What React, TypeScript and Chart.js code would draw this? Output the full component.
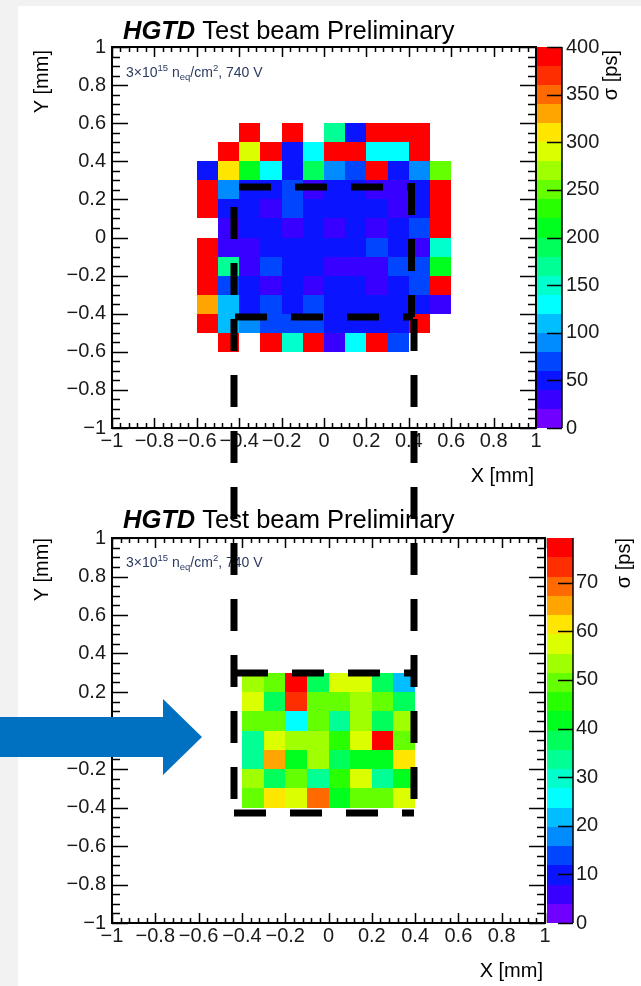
import React, { useEffect, useRef } from 'react';
import { Chart, registerables } from 'chart.js';

Chart.register(...registerables);

const FONT = '"Liberation Sans", Arial, Helvetica, sans-serif';
const TXT = '#1a1a1a';

// 20-band colour palette (low -> high)
const PALETTE = [
  '#7000ff', '#3800ff', '#0a14ff', '#0046ff', '#008cff', '#00beff', '#00ffff', '#00ffcc',
  '#00ff94', '#00ff5a', '#00ff1e', '#28ff00', '#64ff00', '#a0ff00', '#dcff00', '#ffe600',
  '#ffa500', '#ff6a00', '#ff2e00', '#ff0000',
];

// ---------- Top panel: sigma [ps], bins of 0.1 mm ----------
const topXEdges = [-0.6, -0.5, -0.4, -0.3, -0.2, -0.1, 0, 0.1, 0.2, 0.3, 0.4, 0.5, 0.6];
const topYEdges = [0.6, 0.5, 0.4, 0.3, 0.2, 0.1, 0, -0.1, -0.2, -0.3, -0.4, -0.5, -0.6];
const topZMax = 400;
const topZStep = 50;
const topRow055 = [null, null, 395, null, 392, null, 172, 48, 398, 394, 391, null];
const topRow045 = [null, 396, 288, 393, 52, 131, 397, 394, 128, 133, 392, null];
const topRow035 = [47, 312, 214, 134, 51, 186, 93, 71, 399, 44, 91, 251];
const topRow025 = [393, 88, 49, 53, 68, 33, 51, 46, 36, 32, 55, 396];
const topRow015 = [391, 54, 45, 34, 67, 49, 52, 47, 50, 31, 53, 395];
const topRow005 = [null, 35, 51, 48, 32, 47, 29, 50, 34, 46, 66, 392];
const topRowM005 = [394, 33, 36, 52, 49, 46, 51, 48, 64, 50, 37, 152];
const topRowM015 = [397, 168, 34, 71, 48, 50, 31, 35, 33, 69, 67, 209];
const topRowM025 = [390, 72, 47, 36, 51, 30, 49, 53, 37, 46, 68, 398];
const topRowM035 = [332, 114, 50, 66, 47, 71, 52, 45, 48, 51, 54, 36];
const topRowM045 = [393, 108, 92, 65, 69, 72, 47, 53, 49, 46, 395, null];
const topRowM055 = [null, 391, null, 396, 151, 393, 32, 129, 394, 63, null, null];

// ---------- Bottom panel: sigma [ps] ----------
const botXEdges = [-0.4, -0.3, -0.2, -0.1, 0, 0.1, 0.2, 0.3, 0.4];
const botYEdges = [0.3, 0.2, 0.1, 0, -0.1, -0.2, -0.3, -0.4];
const botZMax = 79.2;
const botZStep = 10;
const botRow025 = [53.2, 49.6, 77.5, 37.4, 57.1, 58.0, 38.2, 21.5];
const botRow015 = [57.6, 37.0, 73.4, 50.1, 48.9, 52.8, 49.3, 36.9];
const botRow005 = [49.8, 50.4, 25.6, 48.7, 33.9, 53.6, 37.8, 52.4];
const botRowM005 = [34.1, 57.9, 53.0, 54.1, 45.2, 58.3, 76.8, 50.6];
const botRowM015 = [33.5, 65.1, 41.8, 52.9, 38.5, 42.2, 41.0, 61.2];
const botRowM025 = [53.9, 37.1, 49.0, 34.6, 45.8, 57.0, 34.3, 42.5];
const botRowM035 = [50.9, 61.8, 58.6, 69.0, 41.3, 49.4, 48.2, 57.3];

const axisTicks = [-1, -0.8, -0.6, -0.4, -0.2, 0, 0.2, 0.4, 0.6, 0.8, 1];

type Cell = { x: number; y: number; x0: number; x1: number; y0: number; y1: number; v: number };

function buildCells(xEdges: number[], yEdges: number[], rows: (number | null)[][]): Cell[] {
  const out: Cell[] = [];
  rows.forEach((row, r) => {
    const yTop = yEdges[r];
    const yBot = yEdges[r + 1];
    row.forEach((v, c) => {
      if (v === null || v === undefined) return;
      const x0 = xEdges[c];
      const x1 = xEdges[c + 1];
      out.push({ x: (x0 + x1) / 2, y: (yTop + yBot) / 2, x0, x1, y0: yBot, y1: yTop, v });
    });
  });
  return out;
}

const topCells = buildCells(topXEdges, topYEdges, [
  topRow055, topRow045, topRow035, topRow025, topRow015, topRow005,
  topRowM005, topRowM015, topRowM025, topRowM035, topRowM045, topRowM055,
]);
const botCells = buildCells(botXEdges, botYEdges, [
  botRow025, botRow015, botRow005, botRowM005, botRowM015, botRowM025, botRowM035,
]);

type Layout = {
  offsetTop: number;
  canvasH: number;
  areaTop: number;
  areaBottom: number;
  areaLeft: number;
  areaRight: number;
  zPad: number;
  barGap: number;
  barW: number;
  titleX: number;
  titleBase: number;
  annotX: number;
  annotBase: number;
  sigmaX: number;
  sigmaEnd: number;
  yTitleX: number;
  yTitleEnd: number;
  xTitleRight: number;
  xTitleY: number;
};

const TOP_LAYOUT: Layout = {
  offsetTop: 0, canvasH: 495, areaTop: 47, areaBottom: 428, areaLeft: 112, areaRight: 536,
  zPad: 30, barGap: 1, barW: 25,
  titleX: 123, titleBase: 39, annotX: 126, annotBase: 77,
  sigmaX: 611, sigmaEnd: 50, yTitleX: 42, yTitleEnd: 50, xTitleRight: 534, xTitleY: 476,
};
const BOTTOM_LAYOUT: Layout = {
  offsetTop: 495, canvasH: 491, areaTop: 43, areaBottom: 428, areaLeft: 112, areaRight: 545,
  zPad: 31, barGap: 2, barW: 26,
  titleX: 123, titleBase: 33, annotX: 126, annotBase: 72,
  sigmaX: 624, sigmaEnd: 43, yTitleX: 42, yTitleEnd: 43, xTitleRight: 543, xTitleY: 476,
};

const fmtTick = (v: number | string) => {
  const n = Math.round(Number(v) * 100) / 100;
  const s = String(n === 0 ? 0 : n);
  return s.replace('-', '\u2212');
};

function colorFor(v: number, zMax: number) {
  const bw = zMax / PALETTE.length;
  const i = Math.max(0, Math.min(PALETTE.length - 1, Math.floor(v / bw)));
  return PALETTE[i];
}

function makePanelPlugin(L: Layout, zMax: number) {
  return {
    id: 'panelDecor',
    beforeDatasetsDraw(chart: any) {
      const { ctx, scales } = chart;
      const xs = scales.x;
      const ys = scales.y;
      const cells: Cell[] = chart.data.datasets[0].data;
      ctx.save();
      for (const c of cells) {
        const px0 = Math.round(xs.getPixelForValue(c.x0));
        const px1 = Math.round(xs.getPixelForValue(c.x1));
        const py0 = Math.round(ys.getPixelForValue(c.y1));
        const py1 = Math.round(ys.getPixelForValue(c.y0));
        ctx.fillStyle = colorFor(c.v, zMax);
        ctx.fillRect(px0, py0, px1 - px0, py1 - py0);
      }
      ctx.restore();
    },
    afterDatasetsDraw(chart: any) {
      const { ctx, chartArea: a, scales } = chart;
      const xs = scales.x;
      const ys = scales.y;
      const zs = scales.z;
      ctx.save();
      ctx.strokeStyle = '#000';
      ctx.lineWidth = 1.5;
      ctx.beginPath();
      for (let k = 0; k <= 50; k++) {
        const v = -1 + k * 0.04;
        const px = Math.round(xs.getPixelForValue(v)) + 0.5;
        const len = k % 5 === 0 ? 10 : 5;
        ctx.moveTo(px, a.bottom);
        ctx.lineTo(px, a.bottom - len);
        ctx.moveTo(px, a.top);
        ctx.lineTo(px, a.top + len);
      }
      for (let k = 0; k <= 40; k++) {
        const v = -1 + k * 0.05;
        const py = Math.round(ys.getPixelForValue(v)) + 0.5;
        const len = k % 4 === 0 ? 16 : 8;
        ctx.moveTo(a.left, py);
        ctx.lineTo(a.left + len, py);
        ctx.moveTo(a.right, py);
        ctx.lineTo(a.right - len, py);
      }
      ctx.stroke();
      ctx.lineWidth = 2;
      ctx.strokeRect(a.left, a.top, a.right - a.left, a.bottom - a.top);

      // colour bar
      const n = PALETTE.length;
      const bw = zMax / n;
      const bx = a.right + L.barGap;
      for (let i = 0; i < n; i++) {
        const yTop = Math.round(zs.getPixelForValue((i + 1) * bw));
        const yBot = Math.round(zs.getPixelForValue(i * bw));
        ctx.fillStyle = PALETTE[i];
        ctx.fillRect(bx, yTop, L.barW, yBot - yTop);
      }
      const br = bx + L.barW;
      ctx.lineWidth = 1.5;
      ctx.beginPath();
      ctx.moveTo(br, zs.top);
      ctx.lineTo(br, zs.bottom);
      for (const t of zs.ticks) {
        const py = Math.round(zs.getPixelForValue(t.value)) + 0.5;
        ctx.moveTo(br - 15, py);
        ctx.lineTo(br, py);
      }
      ctx.stroke();
      ctx.restore();
    },
    afterDraw(chart: any) {
      const { ctx } = chart;
      ctx.save();
      ctx.fillStyle = '#000';
      ctx.textBaseline = 'alphabetic';
      ctx.textAlign = 'left';
      ctx.font = `italic bold 25.5px ${FONT}`;
      ctx.fillText('HGTD', L.titleX, L.titleBase);
      const w = ctx.measureText('HGTD').width;
      ctx.font = `25.5px ${FONT}`;
      ctx.fillText(' Test beam Preliminary', L.titleX + w, L.titleBase);

      ctx.fillStyle = '#2c3a62';
      let cx = L.annotX;
      const big = `14px ${FONT}`;
      const small = `9.5px ${FONT}`;
      const seg = (t: string, f: string, dy: number) => {
        ctx.font = f;
        ctx.fillText(t, cx, L.annotBase + dy);
        cx += ctx.measureText(t).width;
      };
      seg('3\u00d710', big, 0);
      seg('15', small, -6);
      seg(' n', big, 0);
      seg('eq', small, 3);
      seg('/cm', big, 0);
      seg('2', small, -6);
      seg(', 740 V', big, 0);

      ctx.fillStyle = '#000';
      ctx.font = `20px ${FONT}`;
      ctx.textAlign = 'right';
      ctx.textBaseline = 'middle';
      ctx.fillText('X [mm]', L.xTitleRight, L.xTitleY);

      ctx.save();
      ctx.translate(L.yTitleX, L.yTitleEnd);
      ctx.rotate(-Math.PI / 2);
      ctx.fillText('Y [mm]', 0, 0);
      ctx.restore();

      ctx.save();
      ctx.translate(L.sigmaX, L.sigmaEnd);
      ctx.rotate(-Math.PI / 2);
      ctx.fillText('\u03c3 [ps]', 0, 0);
      ctx.restore();

      ctx.restore();
    },
  };
}

function Panel({ layout, cells, zMax, zStep }: { layout: Layout; cells: Cell[]; zMax: number; zStep: number }) {
  const ref = useRef<HTMLCanvasElement>(null);
  useEffect(() => {
    const L = layout;
    const tickFont = { family: FONT, size: 20 };
    const chart = new Chart(ref.current as HTMLCanvasElement, {
      type: 'scatter',
      data: {
        datasets: [{ data: cells as any, pointRadius: 0, pointHoverRadius: 0, showLine: false }],
      },
      options: {
        animation: false,
        responsive: false,
        events: [],
        layout: { padding: { top: L.areaTop, left: 0, right: 0, bottom: 0 } },
        plugins: { legend: { display: false }, tooltip: { enabled: false }, title: { display: false } },
        scales: {
          x: {
            type: 'linear', position: 'bottom', min: -1, max: 1,
            grid: { display: false, drawTicks: false }, border: { display: false },
            afterBuildTicks: (s: any) => { s.ticks = axisTicks.map((v) => ({ value: v })); },
            ticks: {
              autoSkip: false, maxRotation: 0, minRotation: 0, padding: 1,
              color: TXT, font: tickFont, callback: fmtTick,
            },
            afterFit: (s: any) => { s.height = L.canvasH - L.areaBottom; },
          },
          y: {
            type: 'linear', position: 'left', min: -1, max: 1,
            grid: { display: false, drawTicks: false }, border: { display: false },
            afterBuildTicks: (s: any) => { s.ticks = axisTicks.map((v) => ({ value: v })); },
            ticks: { autoSkip: false, padding: 6, color: TXT, font: tickFont, callback: fmtTick },
            afterFit: (s: any) => { s.width = L.areaLeft; },
          },
          z: {
            type: 'linear', axis: 'y', position: 'right', min: 0, max: zMax,
            grid: { display: false, drawTicks: false }, border: { display: false },
            ticks: {
              stepSize: zStep, includeBounds: false, autoSkip: false, padding: L.zPad,
              color: TXT, font: tickFont, callback: (v: any) => String(v),
            },
            afterFit: (s: any) => { s.width = 641 - L.areaRight; },
          },
        },
      } as any,
      plugins: [makePanelPlugin(L, zMax)],
    });
    return () => chart.destroy();
  }, []);
  return (
    <canvas
      ref={ref}
      width={641}
      height={layout.canvasH}
      style={{ position: 'absolute', left: 0, top: layout.offsetTop, width: 641, height: layout.canvasH }}
    />
  );
}

// dashed annotation lines: [x1, y1, x2, y2, dashOffset]
const dashLines: number[][] = [
  [234, 187, 413, 187, 51],
  [411.5, 183, 411.5, 317, 0],
  [235, 317, 413, 317, 0],
  [234, 187, 234, 813, 36],
  [414, 317, 414, 813, 54],
  [234, 673, 414, 673, 54],
  [234, 813, 414, 813, 0],
];

export default function App() {
  return (
    <div style={{ position: 'fixed', left: 0, top: 0, width: 641, height: 986, background: '#f2f2f2', overflow: 'hidden' }}>
      <div style={{ position: 'absolute', left: 18, top: 6, right: 0, bottom: 0, background: '#ffffff' }} />
      <Panel layout={TOP_LAYOUT} cells={topCells} zMax={topZMax} zStep={topZStep} />
      <Panel layout={BOTTOM_LAYOUT} cells={botCells} zMax={botZMax} zStep={botZStep} />
      <svg width={641} height={986} style={{ position: 'absolute', left: 0, top: 0, pointerEvents: 'none' }}>
        <polygon points="0,717 163,717 163,699 202,737 163,775 163,757 0,757" fill="#0070c0" />
        {dashLines.map((d, i) => (
          <line
            key={i}
            x1={d[0]} y1={d[1]} x2={d[2]} y2={d[3]}
            stroke="#000" strokeWidth={7} strokeDasharray="32 24" strokeDashoffset={d[4]}
          />
        ))}
      </svg>
    </div>
  );
}
